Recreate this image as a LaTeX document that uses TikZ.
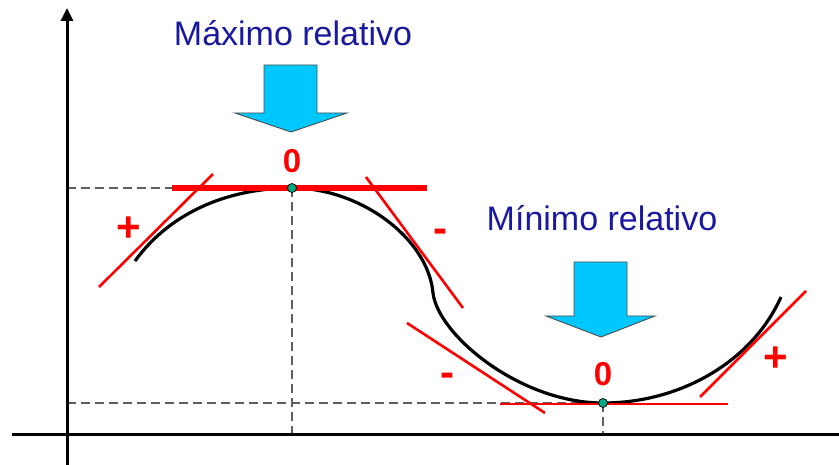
\documentclass[tikz,border=0pt]{standalone}
\usepackage{fontspec}
\setmainfont{Liberation Sans}
\usetikzlibrary{arrows.meta}
\definecolor{lblblue}{RGB}{25,25,160}
\definecolor{arrcyan}{RGB}{0,200,255}
\definecolor{dotgreen}{RGB}{0,170,130}
\definecolor{dashgrey}{RGB}{95,95,95}
\begin{document}
\begin{tikzpicture}[x=1pt,y=-1pt,
  axis/.style={line width=3pt},
  guide/.style={dashgrey,line width=2.4pt,dash pattern=on 9pt off 5pt},
  tangent/.style={red,line width=2.6pt},
  flat/.style={red,line width=6pt},
  curvestyle/.style={black,line width=3.2pt},
  lbl/.style={lblblue,font=\fontsize{34}{40}\selectfont,inner sep=0pt,anchor=base},
  sign/.style={red,font=\bfseries\fontsize{42}{46}\selectfont,inner sep=0pt,anchor=base},
  zero/.style={red,font=\bfseries\fontsize{33}{38}\selectfont,inner sep=0pt,anchor=base},
  bigarrow/.style={fill=arrcyan,draw=black!70,line width=0.9pt,line join=miter},
  extpt/.style={circle,fill=dotgreen,draw=black,line width=0.7pt,minimum size=9pt,inner sep=0pt}
]
\useasboundingbox (0,0) rectangle (839,465);

% coordinates
\coordinate (yb) at (67,465);
\coordinate (yt) at (67,8);
\coordinate (xl) at (12,434);
\coordinate (xr) at (839,434);
\coordinate (maxp) at (292,188);
\coordinate (minp) at (603,403);
\coordinate (maxy) at (67,188);
\coordinate (miny) at (67,403);
\coordinate (maxx) at (292,434);
\coordinate (minx) at (603,434);

% dashed guides
\draw[guide] (maxy) -- (maxp);
\draw[guide] (maxp) -- (maxx);
\draw[guide] (miny) -- (minp);
\draw[guide] (minp) -- (minx);

% axes
\draw[axis] (xl) -- (xr);
\draw[axis,-{Triangle[length=13pt,width=12pt]}] (yb) -- (yt);

% curve
\coordinate (c0) at (135,261);
\coordinate (ck) at (433,293);
\coordinate (c4) at (781,297);
\draw[curvestyle] (c0) .. controls (172,210) and (232,188) .. (maxp)
  .. controls (360,188) and (428,238) .. (ck)
  .. controls (438,335) and (520,403) .. (minp)
  .. controls (680,403) and (752,362) .. (c4);

% tangents
\coordinate (t1a) at (99,287);  \coordinate (t1b) at (213,174);
\coordinate (t2a) at (172,188); \coordinate (t2b) at (427,188);
\coordinate (t3a) at (366,177); \coordinate (t3b) at (463,308);
\coordinate (t4a) at (407,323); \coordinate (t4b) at (545,413);
\coordinate (t5a) at (500,404); \coordinate (t5b) at (728,404);
\coordinate (t6a) at (700,397); \coordinate (t6b) at (806,291);
\draw[tangent] (t1a) -- (t1b);
\draw[flat] (t2a) -- (t2b);
\draw[tangent] (t3a) -- (t3b);
\draw[tangent] (t4a) -- (t4b);
\draw[tangent] (t5a) -- (t5b);
\draw[tangent] (t6a) -- (t6b);

% extreme points
\node[extpt] (mx) at (maxp) {};
\node[extpt] (mn) at (minp) {};

% labels
\node[lbl] (lmax) at (293,46) {Máximo relativo};
\node[lbl] (lmin) at (602,231) {Mínimo relativo};
\node[zero] (z1) at (292,173) {0};
\node[zero] (z2) at (603,385) {0};
\node[sign] (s1) at (129,242) {+};
\node[sign] (s2) at (440,243) {-};
\node[sign] (s3) at (447,386) {-};
\node[sign] (s4) at (776,371) {+};

% big arrows
\draw[bigarrow] (264,65) -- (317,65) -- (317,113) -- (347,113) -- (291,132) -- (235,113) -- (264,113) -- cycle;
\draw[bigarrow] (574,262) -- (627,262) -- (627,316) -- (655,316) -- (601,337) -- (546,316) -- (574,316) -- cycle;
\end{tikzpicture}
\end{document}
